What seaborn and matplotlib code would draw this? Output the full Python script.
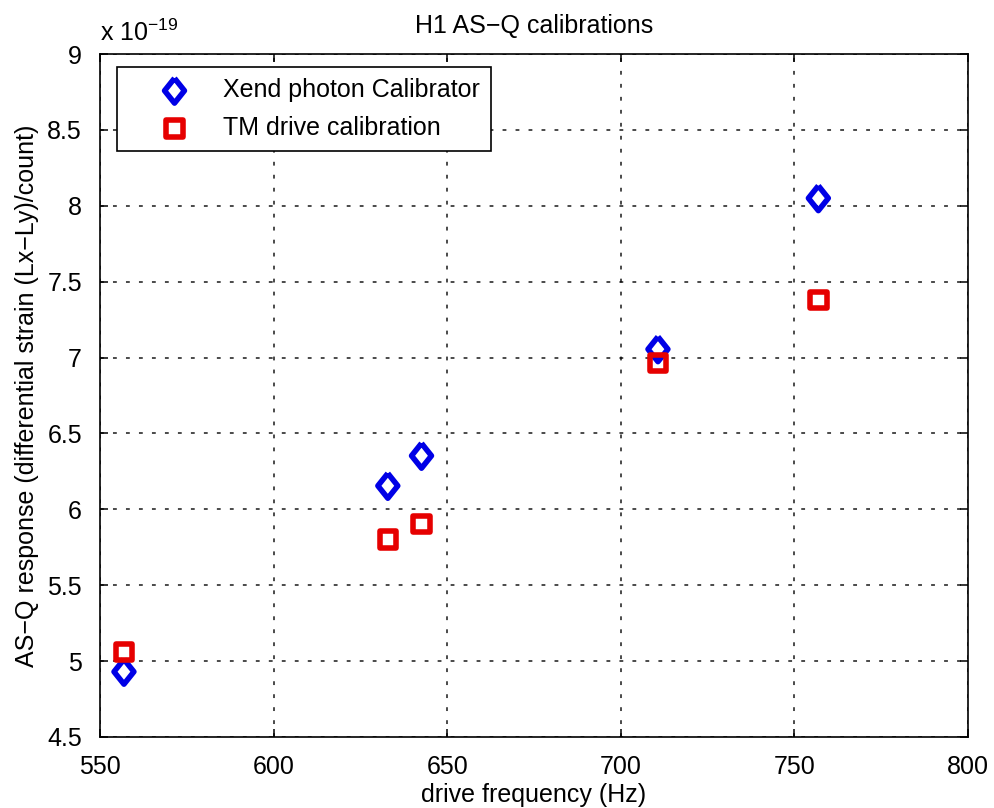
import numpy as np
import pandas as pd
import matplotlib
matplotlib.use("Agg")
import matplotlib.pyplot as plt
import seaborn as sns

# ---- data (response in units of 1e-19) ----
freq_xend = [556.9, 632.9, 642.6, 710.7, 756.9]
resp_xend = [4.93, 6.155, 6.353, 7.055, 8.05]
freq_tm = [556.9, 632.9, 642.6, 710.7, 756.9]
resp_tm = [5.06, 5.80, 5.905, 6.965, 7.38]
series_names = ["Xend photon Calibrator", "TM drive calibration"]
x_ticks = [550, 600, 650, 700, 750, 800]
y_ticks = [4.5, 5, 5.5, 6, 6.5, 7, 7.5, 8, 8.5, 9]
exponent_label = "x 10$^{-19}$"
title = "H1 AS\u2212Q calibrations"
x_label = "drive frequency (Hz)"
y_label = "AS\u2212Q response (differential strain (Lx\u2212Ly)/count)"

sns.set_style("ticks")
plt.rcParams["font.family"] = ["Liberation Sans", "DejaVu Sans"]
plt.rcParams["mathtext.fontset"] = "custom"
plt.rcParams["mathtext.rm"] = "Liberation Sans"
plt.rcParams["mathtext.it"] = "Liberation Sans:italic"
plt.rcParams["mathtext.bf"] = "Liberation Sans:bold"
plt.rcParams["text.color"] = "black"
plt.rcParams["axes.labelcolor"] = "black"

FS = 18

fig = plt.figure(figsize=(9.94, 8.08), dpi=100)
ax = fig.add_axes([100 / 994, 1 - 737 / 808, 868 / 994, 683 / 808])

df_x = pd.DataFrame({"freq": freq_xend, "resp": resp_xend})
df_t = pd.DataFrame({"freq": freq_tm, "resp": resp_tm})

diamond = [(0, 1), (0.8, 0), (0, -1), (-0.8, 0), (0, 1)]

sns.scatterplot(data=df_x, x="freq", y="resp", ax=ax, marker=diamond, s=320,
                facecolors="none", edgecolors="#0000e6", color="#0000e6",
                linewidth=4.0, label=series_names[0], zorder=3)
sns.scatterplot(data=df_t, x="freq", y="resp", ax=ax, marker="s", s=140,
                facecolors="none", edgecolors="#e60000", color="#e60000",
                linewidth=4.0, label=series_names[1], zorder=3)
for coll in ax.collections:
    coll.set_facecolor("none")

ax.set_xlim(550, 800)
ax.set_ylim(4.5, 9)
ax.set_xticks(x_ticks)
ax.set_yticks(y_ticks)
ax.set_xticklabels([f"{v:g}" for v in x_ticks])
ax.set_yticklabels([f"{v:g}" for v in y_ticks])

ax.grid(True, color="black", linestyle=(0, (2.5, 6)), linewidth=1.1, alpha=0.9)
ax.set_axisbelow(True)
for sp in ax.spines.values():
    sp.set_visible(True)
    sp.set_color("black")
    sp.set_linewidth(1.2)
ax.tick_params(direction="in", length=6, width=1.1, top=True, right=True,
               labelsize=FS, pad=13, colors="black")

ax.set_xlabel(x_label, fontsize=FS, labelpad=3)
ax.set_ylabel(y_label, fontsize=FS, labelpad=6)
ax.set_title(title, fontsize=FS, pad=15, color="black")

fig.text(100 / 994, 1 - 33 / 808, exponent_label, fontsize=FS, ha="left", va="center")

leg = ax.legend(loc="upper left", bbox_to_anchor=(17 / 868, 1 - 13 / 683), borderaxespad=0,
                fontsize=FS, frameon=True, fancybox=False, framealpha=1,
                edgecolor="black", borderpad=0.45, handlelength=3.7, handletextpad=0.1,
                labelspacing=0.55, scatterpoints=1)
leg.get_frame().set_linewidth(1.2)
for t in leg.get_texts():
    t.set_color("black")

fig.savefig("out.png", dpi=100)
